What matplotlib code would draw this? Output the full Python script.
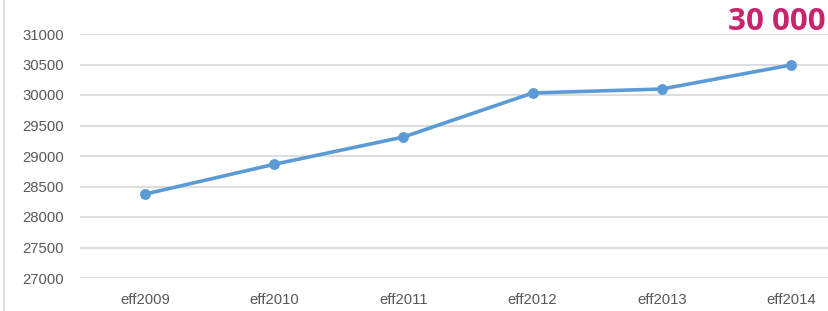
import matplotlib
matplotlib.use('Agg')
import matplotlib.pyplot as plt
from matplotlib.lines import Line2D

# data
years = ['eff2009', 'eff2010', 'eff2011', 'eff2012', 'eff2013', 'eff2014']
effectif = [28375, 28864, 29311, 30033, 30098, 30492]
yticks = [27000, 27500, 28000, 28500, 29000, 29500, 30000, 30500, 31000]

plt.rcParams['font.family'] = ['Liberation Sans', 'DejaVu Sans']

fig = plt.figure(figsize=(8.29, 3.11), dpi=100)
ax = fig.add_axes([80.4 / 829, 33 / 311, 775.2 / 829, 244 / 311])

x = range(len(years))
ax.plot(x, effectif, color='#5B9BD5', linewidth=2.6, marker='o', markersize=6.8,
        solid_capstyle='round')

ax.set_xlim(-0.5, 5.5)
ax.set_ylim(27000, 31000)
ax.set_yticks(yticks)
ax.set_xticks(list(x))
ax.set_xticklabels(years)
ax.grid(axis='y', color='#DDDDDD', linewidth=1.5)
ax.set_axisbelow(True)
for s in ax.spines.values():
    s.set_visible(False)
ax.tick_params(axis='y', length=0, pad=12, labelsize=10.7, labelcolor='#595959')
ax.tick_params(axis='x', length=0, pad=11, labelsize=10.7, labelcolor='#595959')

# left border line
fig.add_artist(Line2D([4 / 829, 4 / 829], [0, 1], color='#D9D9D9', linewidth=1.2))

fig.text(826 / 829, 1 - 22 / 311, '30 000', color='#C8246E', fontsize=22.5,
         fontweight='bold', ha='right', va='center', family=['Open Sans', 'DejaVu Sans'])

plt.savefig('out.png', dpi=100)
